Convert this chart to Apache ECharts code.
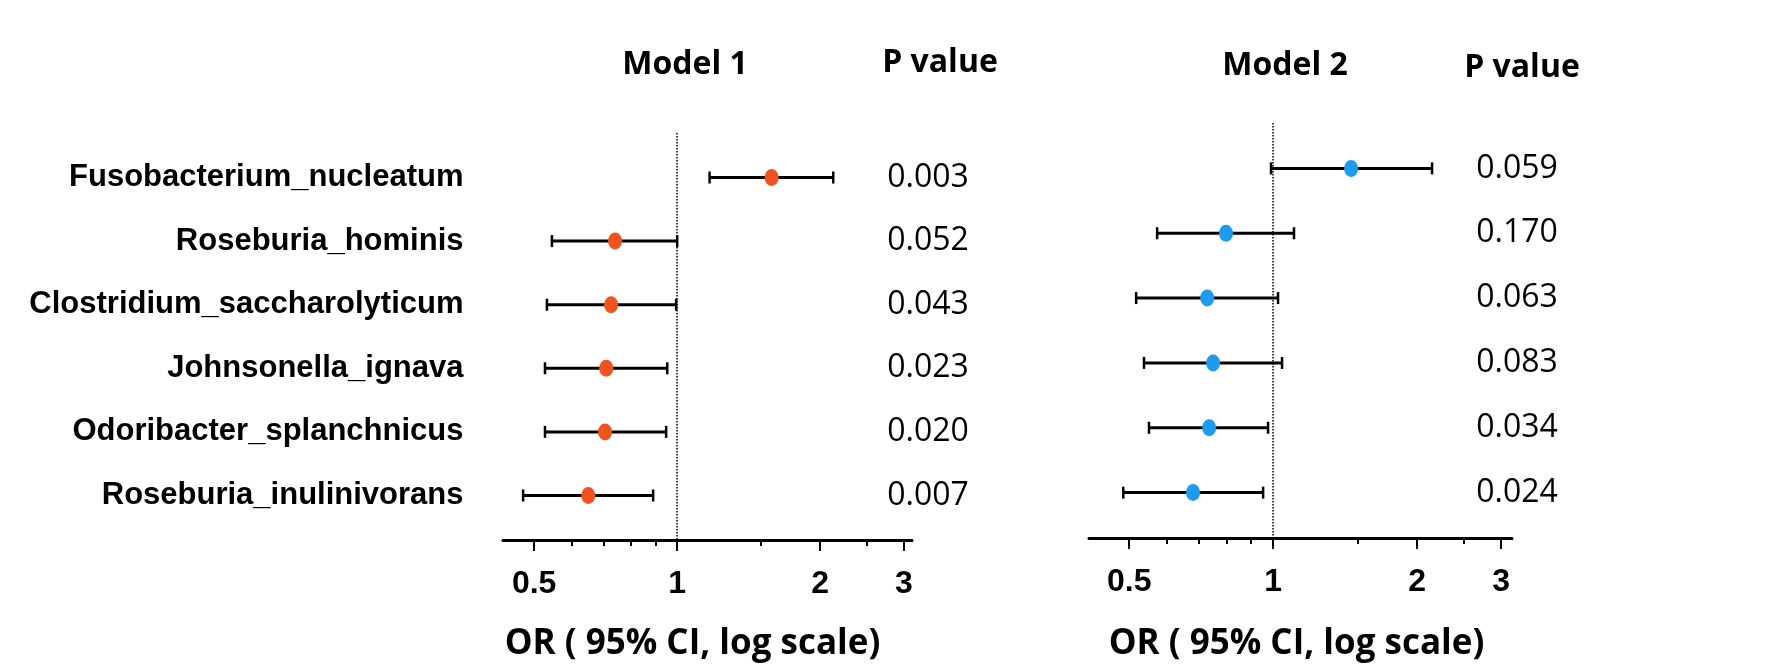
<!DOCTYPE html>
<html>
<head>
<meta charset="utf-8">
<script src="https://cdn.jsdelivr.net/npm/echarts@6/dist/echarts.min.js"></script>
<style>
  html, body { margin: 0; padding: 0; background: #fff; }
  #main { width: 1774px; height: 667px; }
</style>
</head>
<body>
<div id="main"></div>
<script>
var names = ['Fusobacterium_nucleatum', 'Roseburia_hominis', 'Clostridium_saccharolyticum',
             'Johnsonella_ignava', 'Odoribacter_splanchnicus', 'Roseburia_inulinivorans'];

// Model 1
var m1Or   = [1.58, 0.74, 0.726, 0.709, 0.705, 0.65];
var m1Low  = [1.17, 0.545, 0.532, 0.527, 0.527, 0.474];
var m1High = [2.13, 1.0, 0.995, 0.953, 0.948, 0.89];
var m1P    = ['0.003', '0.052', '0.043', '0.023', '0.020', '0.007'];

// Model 2
var m2Or   = [1.456, 0.797, 0.728, 0.749, 0.735, 0.68];
var m2Low  = [0.99, 0.572, 0.517, 0.537, 0.55, 0.486];
var m2High = [2.15, 1.106, 1.024, 1.044, 0.976, 0.953];
var m2P    = ['0.059', '0.170', '0.063', '0.083', '0.034', '0.024'];

var majorTicks = [0.5, 1, 2, 3];
var minorTicks = [0.6, 0.7, 0.8, 0.9, 1.5, 2.5];
var range1 = [0.43, 3.12];
var range2 = [0.412, 3.16];

var lg = function (v) { return Math.log10(v); };
var myChart = echarts.init(document.getElementById('main'));

function axes(gi, range, nameGap, namePad) {
    var base = {
        type: 'value', gridIndex: gi, position: 'bottom',
        min: lg(range[0]), max: lg(range[1]),
        splitLine: { show: false }
    };
    var major = Object.assign({}, base, {
        name: 'OR ( 95% CI, log scale)',
        nameLocation: 'middle',
        nameGap: nameGap,
        nameTextStyle: { fontFamily: 'Open Sans', fontWeight: 'bold', fontSize: 35, color: '#000', padding: namePad },
        axisLine: { lineStyle: { color: '#000', width: 3 } },
        axisTick: { length: 11, lineStyle: { color: '#000', width: 2 }, customValues: majorTicks.map(lg) },
        axisLabel: {
            customValues: majorTicks.map(lg), margin: 28,
            fontFamily: 'Liberation Sans', fontWeight: 'bold', fontSize: 32, color: '#000',
            formatter: function (v) { return String(Math.round(Math.pow(10, v) * 10) / 10); }
        }
    });
    var minor = Object.assign({}, base, {
        axisLine: { show: false },
        axisTick: { length: 6, lineStyle: { color: '#000', width: 2 }, customValues: minorTicks.map(lg) },
        axisLabel: { show: false }
    });
    return [major, minor];
}

function panel(gi, xi, or, low, high, pv, color, range, pOffset, showNames) {
    var rows = or.map(function (v, i) { return i + 1; });
    var list = [];
    // dots + dotted reference line at OR = 1
    list.push({
        type: 'scatter', xAxisIndex: xi, yAxisIndex: gi, z: 5,
        symbol: 'circle', symbolSize: [14, 17],
        itemStyle: { color: color, opacity: 1 },
        data: or.map(function (v, i) { return [lg(v), rows[i]]; }),
        markLine: {
            silent: true, symbol: ['none', 'none'], z: 1,
            label: { show: false },
            lineStyle: { type: 'dotted', color: '#000', width: 1.5 },
            data: [{ xAxis: 0 }]
        }
    });
    list.push({
        type: 'custom', xAxisIndex: xi, yAxisIndex: gi, z: 3,
        data: low.map(function (v, i) { return [lg(v), lg(high[i]), rows[i]]; }),
        renderItem: function (params, api) {
            var y = api.value(2);
            var a = api.coord([api.value(0), y]);
            var b = api.coord([api.value(1), y]);
            var h = 6;
            var cap = { stroke: '#000', lineWidth: 2.5 };
            return {
                type: 'group', children: [
                    { type: 'line', shape: { x1: a[0], y1: a[1], x2: b[0], y2: b[1] }, style: { stroke: '#000', lineWidth: 3 } },
                    { type: 'line', shape: { x1: a[0], y1: a[1] - h, x2: a[0], y2: a[1] + h }, style: cap },
                    { type: 'line', shape: { x1: b[0], y1: b[1] - h, x2: b[0], y2: b[1] + h }, style: cap }
                ]
            };
        }
    });
    // p values
    list.push({
        type: 'scatter', xAxisIndex: xi, yAxisIndex: gi, silent: true,
        symbolSize: 1, itemStyle: { color: 'transparent' },
        data: pv.map(function (v, i) { return [lg(range[1]), rows[i]]; }),
        label: {
            show: true, position: 'inside', offset: [pOffset, 0], opacity: 1,
            fontFamily: 'Open Sans', fontSize: 32, color: '#000',
            formatter: function (p) { return pv[p.dataIndex]; }
        }
    });
    if (showNames) {
        list.push({
            type: 'scatter', xAxisIndex: xi, yAxisIndex: gi, silent: true,
            symbolSize: 1, itemStyle: { color: 'transparent' },
            data: names.map(function (v, i) { return [lg(range[0]), rows[i]]; }),
            label: {
                show: true, position: 'left', distance: 39, opacity: 1,
                fontFamily: 'Liberation Sans', fontWeight: 'bold', fontSize: 31, color: '#000',
                formatter: function (p) { return names[p.dataIndex]; }
            }
        });
    }
    return list;
}

var titleStyle = { fontFamily: 'Open Sans', fontWeight: 'bold', fontSize: 32, color: '#000' };

var option = {
    animation: false,
    backgroundColor: '#fff',
    title: [
        { text: 'Model 1', left: 680, top: 44, textAlign: 'center', textStyle: titleStyle },
        { text: 'P value', left: 935, top: 42, textAlign: 'center', textStyle: titleStyle },
        { text: 'Model 2', left: 1280, top: 45, textAlign: 'center', textStyle: titleStyle },
        { text: 'P value', left: 1517, top: 47, textAlign: 'center', textStyle: titleStyle }
    ],
    grid: [
        { left: 503, width: 409, top: 133, height: 410 },
        { left: 1089, width: 423, top: 123, height: 418 }
    ],
    xAxis: axes(0, range1, 87, [0, 30, 0, 0]).concat(axes(1, range2, 89, [0, 8, 0, 0])),
    yAxis: [
        { type: 'value', gridIndex: 0, inverse: true, min: 0.3, max: 6.7, show: false },
        { type: 'value', gridIndex: 1, inverse: true, min: 0.3, max: 6.7, show: false }
    ],
    series: panel(0, 0, m1Or, m1Low, m1High, m1P, '#F4511E', range1, 16, true)
        .concat(panel(1, 2, m2Or, m2Low, m2High, m2P, '#1C9BF0', range2, 5, false))
};

myChart.setOption(option);
</script>
</body>
</html>
